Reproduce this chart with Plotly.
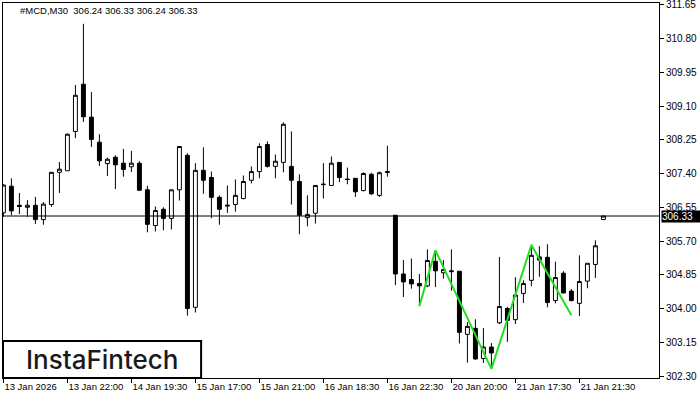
import plotly.graph_objects as go

# ---- data (M30 candles, #MCD) ----
opens = [306.41, 307.08, 306.60, 306.55, 306.60, 306.24, 306.62, 307.43, 307.47, 308.46,
         309.65, 308.82, 308.19, 307.65, 307.81, 307.66, 307.57, 307.66, 306.99, 306.09,
         306.50, 306.27, 306.99, 307.86, 304.03, 307.48, 307.30, 306.80, 306.58, 306.62,
         306.77, 307.23, 307.45, 308.13, 307.58, 307.68, 307.58, 307.20, 306.29, 306.40,
         307.12, 307.10, 307.68, 307.26, 307.28, 306.97, 307.38, 306.85, 307.45, 306.35,
         304.87, 304.73, 304.63, 304.57, 305.19, 304.90, 304.95, 304.94, 303.35, 303.50,
         302.74, 303.03, 303.64, 304.00, 303.72, 304.38, 304.71, 305.30, 305.29, 304.20,
         304.89, 304.44, 304.13, 304.69, 305.11, 306.24]
highs = [307.13, 307.28, 306.91, 306.73, 306.81, 306.68, 307.44, 307.69, 308.41, 309.63,
         311.17, 309.45, 308.39, 307.80, 307.86, 308.02, 307.97, 307.71, 307.09, 306.57,
         306.55, 306.99, 308.08, 307.91, 307.66, 308.06, 307.45, 306.85, 307.10, 307.25,
         307.35, 307.58, 308.16, 308.21, 307.88, 308.69, 308.46, 307.38, 306.85, 307.10,
         307.66, 307.83, 307.68, 307.55, 307.28, 307.43, 307.42, 307.45, 308.10, 306.35,
         305.22, 305.26, 304.87, 305.49, 305.47, 305.22, 305.49, 304.94, 303.66, 303.73,
         303.51, 303.13, 305.30, 304.04, 304.79, 304.71, 305.61, 305.57, 305.62, 305.18,
         304.94, 304.49, 305.34, 305.14, 305.72, 306.33]
lows = [306.31, 306.35, 306.38, 306.31, 306.13, 306.11, 306.56, 306.91, 307.47, 308.29,
        308.70, 308.07, 307.59, 307.34, 307.01, 307.32, 307.44, 306.96, 305.92, 305.94,
        305.97, 305.99, 306.72, 303.82, 303.90, 306.89, 306.27, 306.11, 306.41, 306.44,
        306.75, 307.15, 307.28, 307.55, 307.28, 307.43, 306.62, 305.87, 306.07, 306.14,
        306.77, 307.10, 307.18, 307.13, 306.81, 306.95, 306.86, 306.81, 307.32, 304.59,
        304.29, 304.50, 304.06, 304.54, 304.54, 304.75, 304.45, 303.12, 302.64, 302.71,
        302.63, 302.49, 303.61, 303.16, 303.61, 304.14, 304.56, 304.80, 304.03, 304.13,
        304.39, 304.18, 303.81, 304.51, 304.77, 306.24]
closes = [307.11, 306.46, 306.57, 306.60, 306.24, 306.63, 307.43, 307.51, 308.39, 309.37,
          308.83, 308.26, 307.72, 307.76, 307.62, 307.50, 307.66, 306.98, 306.12, 306.47,
          306.27, 306.99, 308.08, 304.00, 307.48, 307.23, 306.80, 306.50, 306.60, 306.85,
          307.20, 307.45, 308.08, 307.58, 307.71, 308.64, 307.23, 306.35, 306.37, 307.10,
          307.13, 307.66, 307.30, 307.25, 306.94, 307.40, 306.89, 307.42, 307.43, 304.87,
          304.67, 304.62, 304.57, 305.21, 304.95, 304.98, 304.93, 303.40, 303.55, 302.73,
          303.03, 302.88, 304.05, 303.70, 304.34, 304.63, 305.34, 305.22, 304.15, 304.78,
          304.39, 304.20, 304.68, 305.14, 305.58, 306.33]

x_tick_idx = [0, 8, 16, 24, 32, 40, 48, 56, 64, 72]
x_tick_labels = ["13 Jan 2026", "13 Jan 22:00", "14 Jan 19:30", "15 Jan 17:00", "15 Jan 21:00",
                 "16 Jan 18:30", "16 Jan 22:30", "20 Jan 20:00", "21 Jan 17:30", "21 Jan 21:30"]
y_ticks = [302.30, 303.15, 304.00, 304.85, 305.70, 306.55, 307.40, 308.25, 309.10, 309.95,
           310.80, 311.65]

pattern_idx = [52, 54, 61, 66, 71]
pattern_price = [304.06, 305.47, 302.48, 305.60, 303.83]

last_price = 306.33
title_text = "#MCD,M30  306.24 306.33 306.24 306.33"

idx = list(range(len(opens)))

fig = go.Figure()
fig.add_trace(go.Candlestick(
    x=idx, open=opens, high=highs, low=lows, close=closes,
    increasing=dict(line=dict(color="black", width=1), fillcolor="white"),
    decreasing=dict(line=dict(color="black", width=1), fillcolor="black"),
    whiskerwidth=0, showlegend=False, hoverinfo="skip",
))
fig.add_trace(go.Scatter(
    x=pattern_idx, y=pattern_price, mode="lines",
    line=dict(color="#22dd22", width=2), showlegend=False, hoverinfo="skip",
))

fig.add_shape(type="line", xref="paper", x0=0, x1=1, yref="y", y0=last_price, y1=last_price,
              line=dict(color="black", width=1))

fig.add_annotation(xref="paper", x=1, xanchor="left", xshift=2, yref="y", y=last_price,
                   text=f"{last_price:.2f}", showarrow=False, bgcolor="black",
                   width=38, align="left", height=11,
                   font=dict(color="white", size=10, family="Liberation Sans"), borderpad=0)

fig.add_annotation(xref="paper", x=0.0229, xanchor="left", yref="paper", y=0.979, yanchor="middle",
                   text=title_text, showarrow=False,
                   font=dict(color="black", size=9.5, family="Liberation Sans"))

# logo box
fig.add_shape(type="rect", xref="paper", yref="paper", x0=0, x1=0.302, y0=0, y1=0.0987,
              line=dict(color="black", width=2), fillcolor="white", layer="above")
fig.add_annotation(xref="paper", yref="paper", x=0.151, y=0.0493, xanchor="center", yanchor="middle",
                   text="InstaFintech", showarrow=False,
                   font=dict(color="#1a1a1a", size=26, family="Inter", weight=500))

fig.update_layout(
    width=700, height=400,
    margin=dict(l=3, r=41, t=3, b=22),
    paper_bgcolor="white", plot_bgcolor="white",
    showlegend=False,
    xaxis=dict(range=[-0.05, 81.95], tickvals=x_tick_idx, ticktext=x_tick_labels,
               ticks="outside", ticklen=4, tickcolor="black", ticklabelposition="outside right",
               tickangle=0, automargin=False,
               tickfont=dict(size=9.5, family="Liberation Sans", color="black"),
               showgrid=False, zeroline=False, showline=True, linecolor="black", linewidth=1,
               mirror=True, rangeslider=dict(visible=False), fixedrange=True),
    yaxis=dict(range=[302.25, 311.695], side="right", tickvals=y_ticks,
               ticktext=[f"{v:.2f}" for v in y_ticks], ticklabeloverflow="allow",
               ticks="outside", ticklen=4, tickcolor="black", automargin=False,
               tickfont=dict(size=10, family="Liberation Sans", color="black"),
               showgrid=False, zeroline=False, showline=True, linecolor="black", linewidth=1,
               mirror=True, fixedrange=True),
)

fig.write_html("out.html", config={"displayModeBar": False},
               post_script="document.body.style.margin='0px';document.body.style.overflow='hidden';")
